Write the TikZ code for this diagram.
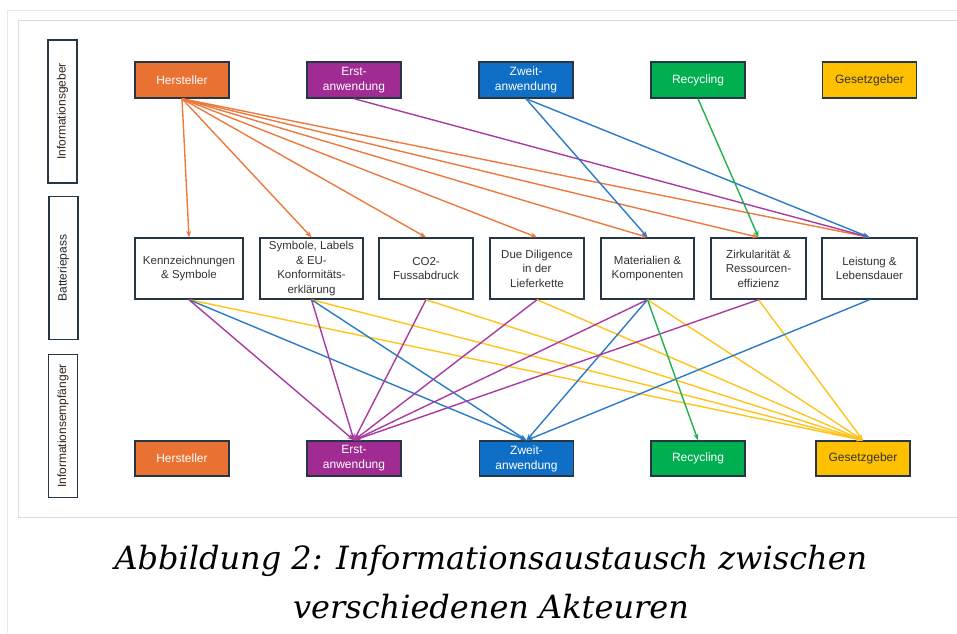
\documentclass[tikz,border=0pt]{standalone}
\usepackage{fontspec}
\setmainfont{Liberation Sans}
\newfontfamily\capfont{DejaVu Serif}
\usetikzlibrary{arrows.meta}
\definecolor{cOr}{HTML}{E97132}
\definecolor{cPu}{HTML}{A02B93}
\definecolor{cBl}{HTML}{0F6FC6}
\definecolor{cGr}{HTML}{00B050}
\definecolor{cYe}{HTML}{FFC000}
\definecolor{cBd}{HTML}{263645}
\definecolor{cTx}{HTML}{333333}
\definecolor{lOr}{HTML}{EC7A3E}
\definecolor{lPu}{HTML}{AA3AA0}
\definecolor{lBl}{HTML}{2A7BC8}
\definecolor{lGr}{HTML}{22B14C}
\definecolor{lYe}{HTML}{FFC31A}
\definecolor{frA}{HTML}{E8E8E8}
\definecolor{frB}{HTML}{DDDDDD}
\tikzset{
  box/.style={draw=cBd, line width=1.4pt, rectangle, inner sep=0pt, align=center,
    font=\fontsize{11.5}{14.5}\selectfont},
  actor/.style={box, minimum width=94pt, minimum height=36pt, text=white,
    font=\fontsize{12}{15}\selectfont},
  pass/.style={box, fill=white, minimum height=61pt, text=cTx},
  side/.style={box, fill=white, rotate=90, minimum width=143pt, minimum height=29pt,
    text=black!85, font=\fontsize{12}{14}\selectfont},
  arr/.style={line width=1.4pt, -{Stealth[length=6.5pt,width=5pt]}},
  capstyle/.style={font=\capfont\itshape\fontsize{32}{49}\selectfont, inner sep=0pt, anchor=base}
}
\begin{document}
\begin{tikzpicture}[x=1pt,y=-1pt]
\useasboundingbox (0,0) rectangle (957,633);
% frames
\draw[frA, line width=1pt] (7,633) -- (7,10) -- (957,10);
\draw[frB, line width=1pt] (957,20) -- (18,20) -- (18,517) -- (957,517);

% side labels
\node[side] (s1) at (62.5,111.5) {Informationsgeber};
\node[side] (s2) at (63.5,268) {Batteriepass};
\node[side] (s3) at (63,426) {Informationsempfänger};

% top row
\node[actor, fill=cOr] (tH) at (182,80) {Hersteller};
\node[actor, fill=cPu] (tE) at (354,80) {Erst-\\anwendung};
\node[actor, fill=cBl] (tZ) at (526,80) {Zweit-\\anwendung};
\node[actor, fill=cGr] (tR) at (698,80) {Recycling};
\node[actor, fill=cYe, text=cTx] (tG) at (869.5,80) {Gesetzgeber};

% middle row
\node[pass, minimum width=108pt] (mK) at (189,268.5) {Kennzeichnungen\\\& Symbole};
\node[pass, minimum width=103pt] (mS) at (311.5,268.5) {Symbole, Labels\\\& EU-\\Konformitäts-\\erklärung};
\node[pass, minimum width=94pt] (mC) at (426,268.5) {CO2-\\Fussabdruck};
\node[pass, minimum width=94pt] (mD) at (537,268.5) {Due Diligence\\in der\\Lieferkette};
\node[pass, minimum width=93pt] (mM) at (647.5,268.5) {Materialien \&\\Komponenten};
\node[pass, minimum width=95pt] (mZ) at (758.5,268.5) {Zirkularität \&\\Ressourcen-\\effizienz};
\node[pass, minimum width=95pt] (mL) at (869.5,268.5) {Leistung \&\\Lebensdauer};

% bottom row
\node[actor, fill=cOr, minimum height=35pt] (bH) at (182,458.5) {Hersteller};
\node[actor, fill=cPu, minimum height=35pt] (bE) at (354,458.5) {Erst-\\anwendung};
\node[actor, fill=cBl, minimum height=35pt] (bZ) at (526.5,458.5) {Zweit-\\anwendung};
\node[actor, fill=cGr, minimum height=35pt] (bR) at (698,458.5) {Recycling};
\node[actor, fill=cYe, text=cTx, minimum height=35pt] (bG) at (863,458.5) {Gesetzgeber};

% top -> middle
\foreach \t in {mK,mS,mC,mD,mM,mZ,mL}
  \draw[arr, lOr] (tH.south) -- (\t.north);
\draw[arr, lPu] (tE.south) -- (mL.north);
\draw[arr, lBl] (tZ.south) -- (mM.north);
\draw[arr, lBl] (tZ.south) -- (mL.north);
\draw[arr, lGr] (tR.south) -- (mZ.north);

% middle -> bottom
\foreach \s in {mK,mS,mC,mD,mM,mZ}
  \draw[arr, lYe] (\s.south) -- (bG.north);
\foreach \s in {mK,mS,mM,mL}
  \draw[arr, lBl] (\s.south) -- (bZ.north);
\foreach \s in {mK,mS,mC,mD,mM,mZ}
  \draw[arr, lPu] (\s.south) -- (bE.north);
\draw[arr, lGr] (mM.south) -- (bR.north);

% caption
\node[capstyle] (cap1) at (491,569) {Abbildung 2: Informationsaustausch zwischen};
\node[capstyle] (cap2) at (491,618) {verschiedenen Akteuren};
\end{tikzpicture}
\end{document}
